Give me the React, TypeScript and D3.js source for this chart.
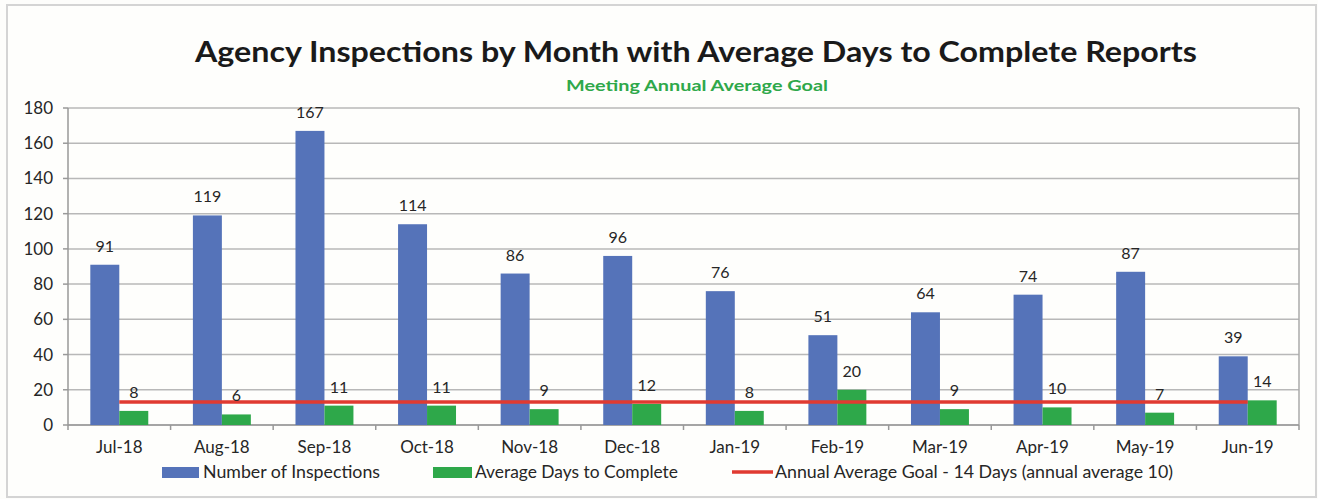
import React from "react";
import * as d3 from "d3";

const months = ["Jul-18","Aug-18","Sep-18","Oct-18","Nov-18","Dec-18","Jan-19","Feb-19","Mar-19","Apr-19","May-19","Jun-19"];
const inspections = [91,119,167,114,86,96,76,51,64,74,87,39];
const avgDays = [8,6,11,11,9,12,8,20,9,10,7,14];
const goalLine = [13,13,13,13,13,13,13,13,13,13,13,13];
const yTicks = [0,20,40,60,80,100,120,140,160,180];
const seriesNames = ["Number of Inspections","Average Days to Complete","Annual Average Goal - 14 Days (annual average 10)"];

const W = 1318, H = 499;
const L = 68, R = 1299, T = 108, B = 425;
const BLUE = "#5573b9", GREEN = "#2ea84a", RED = "#e03a31";
const FONT = "Lato, 'Open Sans', sans-serif";

export default function App() {
  const x = d3.scaleBand<string>().domain(months).range([L, R]).padding(0);
  const inner = d3.scaleBand<string>().domain(["a","b"]).range([0, x.bandwidth()]).paddingInner(0).paddingOuter(0.77);
  const y = d3.scaleLinear().domain([0, 180]).range([B, T]);
  const line = d3.line<number>().x((_, i) => (x(months[i]) as number) + x.bandwidth() / 2).y(d => y(d));
  const bw = inner.bandwidth();
  return (
    <svg width={W} height={H} style={{ position: "absolute", left: 0, top: 0, background: "#fdfdfb" }} fontFamily={FONT}>
      <rect x={7} y={5} width={1309} height={492} fill="#fefefc" stroke="#d4d4d4" strokeWidth={2} />
      <text x={696} y={62} textAnchor="middle" fontSize={28} fontWeight={700} fill="#1a1a1a" textLength={1002} lengthAdjust="spacingAndGlyphs">Agency Inspections by Month with Average Days to Complete Reports</text>
      <text x={697} y={91} textAnchor="middle" fontSize={14.5} fontWeight={700} fill="#2ea84a" textLength={262} lengthAdjust="spacingAndGlyphs">Meeting Annual Average Goal</text>
      {yTicks.map(t => (
        <g key={t}>
          <line x1={L} x2={R} y1={y(t)} y2={y(t)} stroke="#b8b8b8" strokeWidth={1.5} />
          <line x1={L - 5} x2={L} y1={y(t)} y2={y(t)} stroke="#999" strokeWidth={1.5} />
          <text x={53} y={y(t)} dy="0.35em" textAnchor="end" fontSize={17} fill="#262626">{t}</text>
        </g>
      ))}
      <line x1={L} x2={L} y1={T} y2={B} stroke="#999" strokeWidth={1.5} />
      <line x1={R} x2={R} y1={T} y2={B} stroke="#aaa" strokeWidth={1.5} />
      <line x1={L} x2={R} y1={B} y2={B} stroke="#999" strokeWidth={1.5} />
      {months.map((m) => (
        <line key={"tk" + m} x1={(x(m) as number)} x2={(x(m) as number)} y1={B} y2={B + 5} stroke="#999" strokeWidth={1.5} />
      ))}
      <line x1={R} x2={R} y1={B} y2={B + 5} stroke="#999" strokeWidth={1.5} />
      {months.map((m, i) => {
        const x0 = x(m) as number;
        const xb = x0 + (inner("a") as number);
        const xg = x0 + (inner("b") as number);
        return (
          <g key={m}>
            <rect x={xb} y={y(inspections[i])} width={bw} height={B - y(inspections[i])} fill={BLUE} />
            <rect x={xg} y={y(avgDays[i])} width={bw} height={B - y(avgDays[i])} fill={GREEN} />
          </g>
        );
      })}
      <path d={line(goalLine) as string} fill="none" stroke={RED} strokeWidth={3.5} />
      {months.map((m, i) => {
        const x0 = x(m) as number;
        const xb = x0 + (inner("a") as number) + bw / 2;
        const xg = x0 + (inner("b") as number) + bw / 2;
        return (
          <g key={"lb" + m}>
            <text x={xb} y={y(inspections[i]) - 13} textAnchor="middle" fontSize={16} fill="#262626">{inspections[i]}</text>
            <text x={xg} y={y(avgDays[i]) - 13} textAnchor="middle" fontSize={16} fill="#262626">{avgDays[i]}</text>
            <text x={x0 + x.bandwidth() / 2} y={447} dy="0.35em" textAnchor="middle" fontSize={17} fill="#262626">{m}</text>
          </g>
        );
      })}
      <g fontSize={17} fill="#262626">
        <rect x={162} y={467} width={37} height={11} fill={BLUE} />
        <text x={203} y={472} dy="0.35em" textLength={177} lengthAdjust="spacingAndGlyphs">{seriesNames[0]}</text>
        <rect x={433} y={467} width={39} height={11} fill={GREEN} />
        <text x={475} y={472} dy="0.35em" textLength={203} lengthAdjust="spacingAndGlyphs">{seriesNames[1]}</text>
        <line x1={732} x2={773} y1={472} y2={472} stroke={RED} strokeWidth={3.5} />
        <text x={775} y={472} dy="0.35em" textLength={398} lengthAdjust="spacingAndGlyphs">{seriesNames[2]}</text>
      </g>
    </svg>
  );
}
